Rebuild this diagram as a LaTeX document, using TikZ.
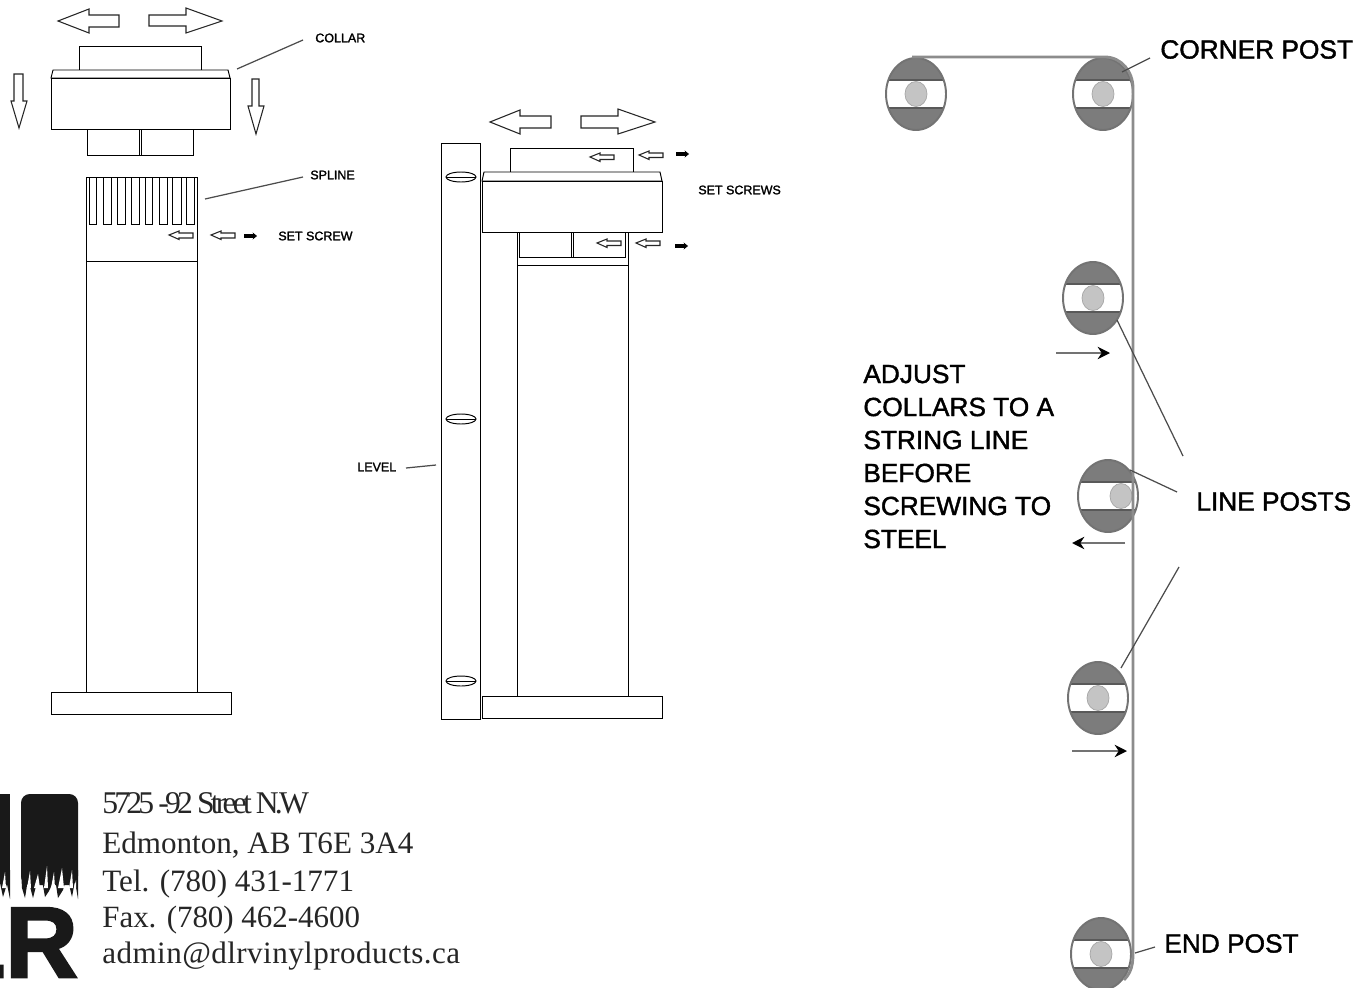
\documentclass[tikz,border=0pt]{standalone}
\usepackage{fontspec}
\setmainfont{Liberation Sans}
\newfontfamily\addrfont{Liberation Serif}
\newfontfamily\boldlabel[FakeBold=1.5]{Liberation Sans}
\newfontfamily\boldsmall[FakeBold=1.6]{Liberation Sans}
\newfontfamily\logofont[FakeBold=2.5]{Liberation Sans Bold}
\usetikzlibrary{arrows.meta}
\definecolor{postgray}{HTML}{7C7C7C}
\definecolor{wiregray}{HTML}{8C8C8C}
\definecolor{bolt}{HTML}{C4C4C4}
\tikzset{
part/.style={draw=black, line width=0.55pt, fill=white},
thinline/.style={line width=0.55pt},
blockarrow/.style={draw=black!85, line width=0.6pt, fill=white},
smalllabel/.style={inner sep=0pt, anchor=west, font=\boldsmall\fontsize{7.1}{8}\selectfont},
biglabel/.style={inner sep=0pt, anchor=west, font=\boldlabel\fontsize{14.95}{16}\selectfont},
addr/.style={inner sep=0pt, anchor=base west, text=black!85, font=\addrfont\fontsize{17.7}{20}\selectfont},
leader/.style={draw=black!70, line width=0.7pt},
wire/.style={draw=wiregray, line width=1.6pt},
pull/.style={draw=black!55, line width=1.2pt, -{Stealth[black, length=7pt, width=7pt]}},
screw/.style={draw=black, line width=1.8pt, -{Stealth[length=2.5pt, width=4pt]}},
boltx/.store in=\boltx, boltx=0,
post/.pic={
  \begin{scope}
  \clip (0,0) ellipse [x radius=30, y radius=36];
  \fill[postgray] (-31,-37) rectangle (31,37);
  \fill[white] (-31,-13.5) rectangle (31,13.5);
  \draw[black!65, line width=1pt] (-31,-14)--(31,-14) (-31,14)--(31,14);
  \end{scope}
  \draw[black!55, line width=1.1pt] (0,0) ellipse [x radius=30, y radius=36];
  \fill[bolt, draw=gray!70, line width=0.4pt] (\boltx,0) ellipse [x radius=11, y radius=12.5];
},
}
\begin{document}
\begin{tikzpicture}[x=0.02cm, y=-0.02cm]
\clip (0,0) rectangle (1372,987);
\fill[white] (0,0) rectangle (1372,987);

% first post, collar above spline
\draw[blockarrow] (58,21)--(89,9)--(89,15)--(119,15)--(119,27)--(89,27)--(89,33)--cycle;
\draw[blockarrow] (222,21)--(186,8)--(186,15)--(149,15)--(149,26)--(186,26)--(186,33)--cycle;
\draw[blockarrow] (19,128)--(11,101)--(14,101)--(14,74)--(23,74)--(23,101)--(27,101)--cycle;
\draw[blockarrow] (256,134)--(248,106)--(252,106)--(252,79)--(259,79)--(259,106)--(264,106)--cycle;
\draw[part] (79,46) rectangle (201,70);
\draw[part] (51,78)--(53,70)--(228,70)--(230,78)--cycle;
\draw[part] (51,78) rectangle (230,129);
\draw[part] (87,129) rectangle (193,155);
\draw[thinline] (139,129)--(139,155) (141,129)--(141,155);
\draw[part] (86,177) rectangle (197.5,261);
\foreach \a/\b in {89.5/96.5,103.5/111,117/125,131/139,145/152.5,159/167,172.5/181,186.5/194.5}
  \draw[thinline] (\a,177)--(\a,224)--(\b,224)--(\b,177);
\draw[part] (86,261) rectangle (197.5,692);
\draw[part] (51,692) rectangle (231,714);
\node[smalllabel] (collar) at (315,38) {COLLAR};
\node[smalllabel] (spline) at (310,175) {SPLINE};
\node[smalllabel] (setscrew) at (278,236) {SET SCREW};
\coordinate (collarend) at (237,69);
\coordinate (splineend) at (205,199);
\draw[leader] (303,40)--(collarend);
\draw[leader] (303,177)--(splineend);
\foreach \t in {169,211}
  \draw[blockarrow] (\t,235)--(\t+10,231)--(\t+10,233)--(\t+24,233)--(\t+24,238)--(\t+10,238)--(\t+10,239.5)--cycle;
\draw[screw] (244,236)--(257,236);

% second post, collar fitted, level alongside
\draw[blockarrow] (490,122)--(520,110)--(520,116)--(551,116)--(551,128)--(520,128)--(520,134)--cycle;
\draw[blockarrow] (655,122)--(618,109)--(618,116)--(581,116)--(581,128)--(618,128)--(618,134)--cycle;
\draw[part] (441,143) rectangle (480,719);
\foreach \y in {177,419,681}{
  \draw[part] (461,\y) ellipse [x radius=15, y radius=5];
  \draw[thinline] (446,\y)--(476,\y);
}
\draw[part] (510.5,148) rectangle (633,172);
\draw[part] (517,232) rectangle (628.5,696);
\draw[thinline] (517,265)--(628.5,265);
\draw[part] (519,232) rectangle (625,257);
\draw[thinline] (571,232)--(571,257) (573,232)--(573,257);
\draw[part] (482,181)--(484,172)--(660,172)--(662,181)--cycle;
\draw[part] (482,181) rectangle (662,232);
\draw[part] (482,696) rectangle (662,718);
\foreach \t/\y in {590/157,639/155,597/243,636/243}
  \draw[blockarrow] (\t,\y)--(\t+10,\y-4)--(\t+10,\y-2)--(\t+24,\y-2)--(\t+24,\y+2.5)--(\t+10,\y+2.5)--(\t+10,\y+4.5)--cycle;
\draw[screw] (676,154)--(689,154);
\draw[screw] (675,246)--(688,246);
\node[smalllabel] (setscrews) at (698,190) {SET SCREWS};
\node[smalllabel] (level) at (357,467) {LEVEL};
\coordinate (levelend) at (436,465);
\draw[leader] (406,468)--(levelend);

% logo and address
\fill[black!90] (-20,794) rectangle (10,875);
\fill[black!90, rounded corners=5pt] (21,794) rectangle (78,885);
\fill[black!90] (-20,870)--(10,870)--(10,899)--(7,884)--(3,897)--(-1,878)--(-3,899)--(-20,899)--cycle;
\fill[black!90] (21,870)--(78,870)--(78,899)--(75,881)--(72,897)--(67,876)--(63,890)--(58,898)--(55,878)--(49,891)--(45,897)--(41,874)--(36,886)--(33,898)--(28,879)--(25,898)--(22,888)--cycle;
\foreach \x/\t/\w in {29/871/2,37/874/3,46/866/2,53/872/2,61/868/3,71/870/2,75/880/1,4/872/2}
  \fill[white] (\x-\w,888)--(\x+1,\t)--(\x+\w,888)--cycle;
\node[inner sep=0pt, anchor=base east, text=black!90, font=\logofont\fontsize{57}{57}\selectfont] (logo) at (78,977) {LR};
\node[addr, font=\addrfont\fontsize{18}{20}\selectfont\addfontfeature{LetterSpace=-12}] (addr1) at (102,813) {5725 -92 Street N.W};
\node[addr] (addr2) at (102,853) {Edmonton, AB T6E 3A4};
\node[addr] (addr3) at (102,891) {Tel. (780) 431-1771};
\node[addr, font=\addrfont\fontsize{17.6}{20}\selectfont] (addr4) at (102,927) {Fax. (780) 462-4600};
\node[addr, font=\addrfont\fontsize{17.7}{20}\selectfont\addfontfeature{LetterSpace=1.4}] (addr5) at (102,963) {admin@dlrvinylproducts.ca};

% string line plan
\pic at (916,94) {post};
\pic at (1103,94) {post};
\pic at (1093,298) {post};
\pic[boltx=13] at (1108,496) {post};
\pic at (1098,698) {post};
\pic at (1101,954) {post};
\draw[wire] (912,57)--(1105,57) to[out=0, in=90] (1133,88)--(1133,945) to[out=270, in=45] (1124,980);
\node[biglabel] (corner) at (1160,49.5) {CORNER POST};
\node[biglabel] (line) at (1196,501.5) {LINE POSTS};
\node[biglabel] (endpost) at (1164,943.5) {END POST};
\foreach \y/\s [count=\i] in {374/ADJUST,407/COLLARS TO A,440/STRING LINE,473/BEFORE,506/SCREWING TO,539/STEEL}
  \node[biglabel] (adjust\i) at (863,\y) {\s};
\coordinate (cornerend) at (1122,72);
\coordinate (lineA) at (1117,320);
\coordinate (lineB) at (1130,470);
\coordinate (lineC) at (1121,668);
\coordinate (endend) at (1135,953);
\draw[leader] (1150,58)--(cornerend);
\draw[leader] (1183,456)--(lineA);
\draw[leader] (1177,492)--(lineB);
\draw[leader] (1179,567)--(lineC);
\draw[leader] (1155,947)--(endend);
\draw[pull] (1056,353)--(1110,353);
\draw[pull] (1125,543)--(1072,543);
\draw[pull] (1072,751)--(1127,751);
\end{tikzpicture}
\end{document}
